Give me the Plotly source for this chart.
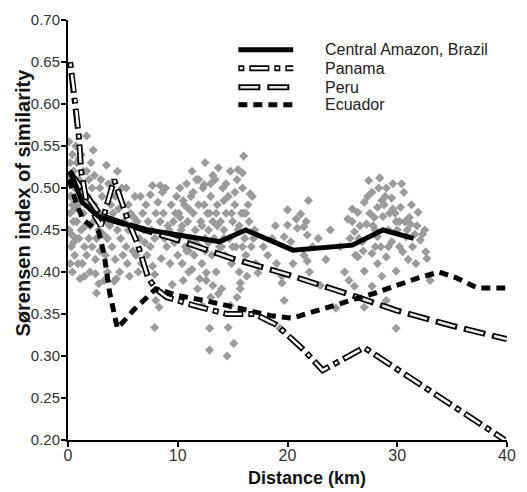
import plotly.graph_objects as go

# ---------------- data ----------------
scatter_x = [
    0.1, 0.2, 0.1, 0.3, 0.2, 0.1, 0.3, 0.2, 0.4, 0.5, 0.6, 0.5, 0.7, 0.6, 0.8, 0.9, 0.8, 1.0, 0.9, 0.4,
    1.0, 0.7, 0.3, 0.6, 1.1, 1.2, 1.3, 1.4, 1.2, 1.5, 1.3, 1.7, 1.7, 1.8, 1.6, 1.9, 1.7, 2.0, 1.5, 1.9,
    2.1, 2.2, 2.4, 2.3, 2.2, 2.5, 2.6, 2.8, 2.6, 2.7, 2.9, 2.5, 2.9, 2.4, 3.1, 3.3, 3.5, 3.2, 3.4, 3.6,
    3.8, 3.9, 3.7, 3.3, 4.0, 4.1, 4.3, 4.5, 4.3, 4.4, 4.7, 4.8, 4.6, 4.9, 4.2, 5.1, 5.3, 5.5, 5.3, 5.4,
    5.8, 5.7, 5.9, 5.6, 6.1, 6.3, 6.5, 6.2, 6.8, 6.7, 6.9, 6.4, 7.1, 7.3, 7.5, 7.5, 7.7, 7.6, 7.9, 7.7,
    7.9, 7.2, 8.0, 7.9, 8.3, 8.4, 8.2, 8.6, 8.5, 8.4, 8.8, 0.5, 1.1, 2.0, 0.8, 1.4, 0.2, 2.8, 3.0, 3.6,
    4.0, 5.0, 6.0, 1.0, 2.3, 0.4, 1.6, 3.5, 4.5, 5.5, 6.6, 7.0, 8.0,
    8.7, 8.9, 9.0, 9.2, 9.4, 9.3, 9.6, 9.8, 9.9, 10.1, 10.0, 10.4, 10.3, 10.6, 10.7, 10.9, 11.0, 11.2, 11.1, 11.4,
    11.5, 11.7, 11.6, 11.9, 12.0, 12.1, 12.3, 12.2, 12.5, 12.4, 12.7, 12.6, 12.9, 12.9, 12.8, 13.0, 13.1, 13.2, 13.4, 13.3,
    13.5, 13.7, 13.6, 13.8, 13.9, 14.0, 14.1, 14.2, 14.3, 14.5, 14.6, 14.4, 14.6, 14.7, 14.8, 14.9, 15.0, 15.1, 15.2, 15.3,
    15.4, 15.5, 15.6, 15.8, 15.9, 16.0, 16.1, 16.2, 16.4, 16.5, 16.7, 16.8, 17.0, 17.1, 13.0, 12.2, 11.8, 10.5, 9.5, 15.7,
    16.3, 11.3, 12.5, 10.8, 14.8, 11.9, 12.4, 13.2, 15.5, 15.9, 10.5, 16.6, 12.6, 13.2, 13.7, 15.4, 15.7, 12.0, 11.3, 17.3,
    9.1, 9.7, 10.2, 11.0, 12.8, 13.5, 14.2, 15.0, 16.0, 16.9,
    9.8, 10.4, 11.0, 11.6, 12.2, 12.9, 13.6, 14.2, 14.9, 15.6, 16.2, 10.2, 11.4, 13.0, 14.4, 15.2, 10.8, 12.5, 14.0, 15.9,
    20.0, 21.9, 21.2, 21.7, 20.8, 20.0, 20.9, 21.8, 19.7, 20.3, 19.7, 19.3, 18.2, 18.6, 19.0, 18.9, 17.8, 21.5, 22.3, 20.5,
    19.5, 22.0, 21.5, 21.8, 19.5, 23.0,
    22.8, 23.5, 24.4, 25.2, 25.6, 25.9, 25.5, 24.8, 23.9,
    27.4, 28.4, 29.0, 27.7, 27.0, 26.4, 28.2, 29.5, 30.3, 29.9, 28.7, 27.2, 26.1, 26.8, 28.2, 29.5, 30.8, 31.2, 30.5, 29.0,
    27.7, 26.4, 28.2, 32.1, 32.6, 32.7, 31.7, 31.1, 31.9, 25.9, 27.0, 28.6, 29.9, 27.0, 29.9, 29.0, 27.7, 26.1, 33.0, 28.9,
    29.3, 30.0, 30.6, 31.4, 27.9, 26.6, 28.5, 29.6, 30.9, 31.8, 27.3, 28.0, 29.2, 30.2, 26.9, 32.3, 25.7, 31.0, 28.8, 30.4,
    26.5, 27.5, 28.6, 29.8, 30.7, 31.6, 28.0, 29.2, 30.2, 26.2, 27.8, 29.6, 28.3, 31.3, 32.5,
]
scatter_y = [
    0.555, 0.53, 0.51, 0.49, 0.47, 0.45, 0.43, 0.41, 0.54, 0.52, 0.50, 0.46, 0.44, 0.42, 0.53, 0.48, 0.46, 0.44, 0.41, 0.40,
    0.51, 0.55, 0.445, 0.475, 0.392, 0.54, 0.50, 0.47, 0.45, 0.43, 0.41, 0.562, 0.52, 0.49, 0.455, 0.44, 0.42, 0.40, 0.395, 0.51,
    0.53, 0.50, 0.48, 0.46, 0.43, 0.415, 0.375, 0.386, 0.44, 0.47, 0.50, 0.398, 0.425, 0.515, 0.49, 0.47, 0.527, 0.445, 0.42, 0.40,
    0.455, 0.48, 0.505, 0.39, 0.43, 0.47, 0.49, 0.45, 0.415, 0.392, 0.40, 0.44, 0.475, 0.50, 0.389, 0.46, 0.43, 0.48, 0.50, 0.41,
    0.45, 0.47, 0.425, 0.395, 0.49, 0.46, 0.44, 0.42, 0.47, 0.41, 0.45, 0.40, 0.48, 0.46, 0.43, 0.492, 0.503, 0.45, 0.44, 0.407,
    0.397, 0.42, 0.366, 0.334, 0.358, 0.503, 0.483, 0.495, 0.416, 0.46, 0.44, 0.435, 0.485, 0.455, 0.50, 0.52, 0.49, 0.45, 0.51, 0.44,
    0.46, 0.42, 0.465, 0.535, 0.545, 0.48, 0.49, 0.46, 0.52, 0.45, 0.49, 0.435, 0.47,
    0.47, 0.50, 0.43, 0.45, 0.48, 0.41, 0.46, 0.44, 0.49, 0.47, 0.42, 0.41, 0.45, 0.48, 0.43, 0.46, 0.40, 0.49, 0.44, 0.47,
    0.42, 0.51, 0.45, 0.48, 0.43, 0.46, 0.50, 0.41, 0.44, 0.48, 0.47, 0.39, 0.333, 0.307, 0.45, 0.49, 0.42, 0.46, 0.51, 0.44,
    0.40, 0.524, 0.48, 0.43, 0.46, 0.38, 0.50, 0.45, 0.42, 0.30, 0.334, 0.47, 0.49, 0.44, 0.36, 0.41, 0.46, 0.315, 0.48, 0.43,
    0.51, 0.45, 0.40, 0.47, 0.50, 0.538, 0.44, 0.42, 0.48, 0.46, 0.43, 0.49, 0.45, 0.41, 0.37, 0.36, 0.38, 0.39, 0.385, 0.38,
    0.395, 0.52, 0.53, 0.505, 0.52, 0.51, 0.504, 0.515, 0.522, 0.518, 0.485, 0.493, 0.399, 0.384, 0.374, 0.37, 0.387, 0.392, 0.403, 0.399,
    0.455, 0.435, 0.465, 0.425, 0.435, 0.47, 0.44, 0.43, 0.47, 0.44,
    0.47, 0.455, 0.475, 0.435, 0.455, 0.47, 0.455, 0.485, 0.47, 0.455, 0.47, 0.50, 0.495, 0.505, 0.505, 0.495, 0.425, 0.425, 0.43, 0.43,
    0.474, 0.485, 0.469, 0.46, 0.463, 0.456, 0.452, 0.444, 0.442, 0.436, 0.366, 0.333, 0.42, 0.44, 0.41, 0.455, 0.43, 0.42, 0.43, 0.41,
    0.395, 0.40, 0.454, 0.413, 0.387, 0.384,
    0.44, 0.415, 0.357, 0.40, 0.39, 0.475, 0.463, 0.43, 0.45,
    0.509, 0.512, 0.50, 0.495, 0.483, 0.471, 0.477, 0.488, 0.477, 0.46, 0.466, 0.457, 0.448, 0.436, 0.442, 0.436, 0.442, 0.457, 0.424, 0.418,
    0.422, 0.418, 0.41, 0.438, 0.424, 0.416, 0.41, 0.465, 0.471, 0.46, 0.401, 0.395, 0.401, 0.358, 0.333, 0.366, 0.383, 0.383, 0.39, 0.49,
    0.47, 0.45, 0.495, 0.43, 0.465, 0.455, 0.43, 0.475, 0.45, 0.455, 0.49, 0.45, 0.43, 0.46, 0.425, 0.445, 0.44, 0.415, 0.48, 0.505,
    0.44, 0.47, 0.485, 0.47, 0.46, 0.445, 0.43, 0.45, 0.43, 0.42, 0.455, 0.505, 0.50, 0.48, 0.45,
]

central_x = [0.2, 0.6, 1.3, 2.8, 4.3, 7.3, 10.0, 13.8, 16.2, 20.5, 25.9, 28.7, 31.5]
central_y = [0.52, 0.505, 0.483, 0.466, 0.46, 0.45, 0.444, 0.436, 0.45, 0.426, 0.432, 0.45, 0.44]

panama_x = [0.2, 0.7, 1.0, 1.2, 1.7, 3.0, 4.2, 5.5, 6.3, 7.3, 8.0, 9.0, 11.5, 14.5, 17.0, 19.0, 21.5, 23.2, 27.0, 39.8]
panama_y = [0.65, 0.60, 0.56, 0.52, 0.483, 0.455, 0.51, 0.46, 0.435, 0.393, 0.38, 0.37, 0.36, 0.35, 0.35, 0.337, 0.307, 0.283, 0.31, 0.20]

peru_x = [0.1, 1.5, 3.0, 5.0, 7.5, 10.0, 15.0, 20.0, 25.0, 30.0, 35.0, 40.0]
peru_y = [0.52, 0.495, 0.467, 0.458, 0.448, 0.438, 0.416, 0.397, 0.376, 0.354, 0.336, 0.32]

ecuador_x = [0.1, 0.8, 1.4, 2.8, 3.3, 3.8, 4.5, 6.0, 8.0, 10.0, 12.5, 14.5, 18.5, 20.4, 22.2, 24.1, 28.0, 31.7, 33.8, 35.4, 37.3, 40.0]
ecuador_y = [0.51, 0.48, 0.462, 0.448, 0.42, 0.375, 0.333, 0.355, 0.38, 0.372, 0.366, 0.36, 0.348, 0.345, 0.352, 0.36, 0.375, 0.392, 0.40, 0.393, 0.381, 0.381]

series_names = ["Central Amazon, Brazil", "Panama", "Peru", "Ecuador"]
x_ticks = [0, 10, 20, 30, 40]
y_ticks = [0.20, 0.25, 0.30, 0.35, 0.40, 0.45, 0.50, 0.55, 0.60, 0.65, 0.70]
x_title = "Distance (km)"
y_title = "Sørensen index of similarity"

# ---------------- styles ----------------
PANAMA_OUT = "6px,5px,20px,5px"
PANAMA_IN = "0px,1.5px,3px,8px,17px,6.5px"
PERU_OUT = "22px,7px"
PERU_IN = "0px,2px,18px,9px"
ECUADOR_DASH = "9px,6px"
FONT = "Liberation Sans, Arial, sans-serif"

fig = go.Figure()

fig.add_trace(go.Scatter(
    x=scatter_x, y=scatter_y, mode="markers",
    marker=dict(symbol="diamond", size=7, color="#9b9b9b", line=dict(width=0)),
    showlegend=False, hoverinfo="skip"))


def hollow(xs, ys, out_dash, in_dash, in_color):
    fig.add_trace(go.Scatter(x=xs, y=ys, mode="lines",
                             line=dict(color="black", width=6, dash=out_dash),
                             showlegend=False, hoverinfo="skip"))
    fig.add_trace(go.Scatter(x=xs, y=ys, mode="lines",
                             line=dict(color=in_color, width=2.6, dash=in_dash),
                             showlegend=False, hoverinfo="skip"))


hollow(peru_x, peru_y, PERU_OUT, PERU_IN, "#e6e6e6")
hollow(panama_x, panama_y, PANAMA_OUT, PANAMA_IN, "white")

fig.add_trace(go.Scatter(x=ecuador_x, y=ecuador_y, mode="lines",
                         line=dict(color="black", width=5, dash=ECUADOR_DASH),
                         showlegend=False, hoverinfo="skip"))
fig.add_trace(go.Scatter(x=central_x, y=central_y, mode="lines",
                         line=dict(color="black", width=5),
                         showlegend=False, hoverinfo="skip"))

# ---------------- manual legend ----------------
lx0, lx1, tx = 0.388, 0.513, 0.582
rows = [0.929, 0.885, 0.840, 0.798]
shapes = []


def seg(y, color, width, dash):
    shapes.append(dict(type="line", xref="paper", yref="paper", x0=lx0, x1=lx1, y0=y, y1=y,
                       line=dict(color=color, width=width, dash=dash)))


seg(rows[0], "black", 5, "solid")
seg(rows[1], "black", 6, PANAMA_OUT)
seg(rows[1], "white", 2.6, PANAMA_IN)
seg(rows[2], "black", 6, PERU_OUT)
seg(rows[2], "#e6e6e6", 2.6, PERU_IN)
seg(rows[3], "black", 5, ECUADOR_DASH)

annotations = [dict(xref="paper", yref="paper", x=tx, y=yy, text=nm, showarrow=False,
                    xanchor="left", yanchor="middle",
                    font=dict(family=FONT, size=16, color="#222"))
               for nm, yy in zip(series_names, rows)]

# axis titles placed as in the reference
annotations.append(dict(xref="paper", yref="paper", x=0.545, y=-0.091, text="<b>%s</b>" % x_title,
                        showarrow=False, xanchor="center", yanchor="middle",
                        font=dict(family=FONT, size=18, color="#111")))
annotations.append(dict(xref="paper", yref="paper", x=-0.103, y=0.565, text="<b>%s</b>" % y_title,
                        showarrow=False, xanchor="center", yanchor="middle", textangle=-90,
                        font=dict(family=FONT, size=20, color="#111")))

fig.update_layout(
    width=527, height=492,
    margin=dict(l=68, r=11, t=15, b=52),
    paper_bgcolor="white", plot_bgcolor="white",
    font=dict(family=FONT, color="#333"),
    shapes=shapes, annotations=annotations,
    showlegend=False,
)
fig.update_xaxes(
    range=[0, 40], tickvals=x_ticks, ticktext=[str(v) for v in x_ticks],
    showgrid=False, zeroline=False, showline=True, linecolor="black", linewidth=2,
    ticks="outside", ticklen=5, tickwidth=1.5, tickcolor="black",
    tickfont=dict(size=16, color="#333"), ticklabeloverflow="allow",
    ticklabelstandoff=-5,
)
fig.update_yaxes(
    range=[0.20, 0.70], tickvals=y_ticks, ticktext=["%.2f" % v for v in y_ticks],
    showgrid=False, zeroline=False, showline=True, linecolor="black", linewidth=2,
    ticks="outside", ticklen=5, tickwidth=1.5, tickcolor="black",
    tickfont=dict(size=15, color="#333"), ticklabelstandoff=-2,
)

fig.write_html("out.html", config={"displayModeBar": False},
               post_script="document.body.style.margin='0px';")
